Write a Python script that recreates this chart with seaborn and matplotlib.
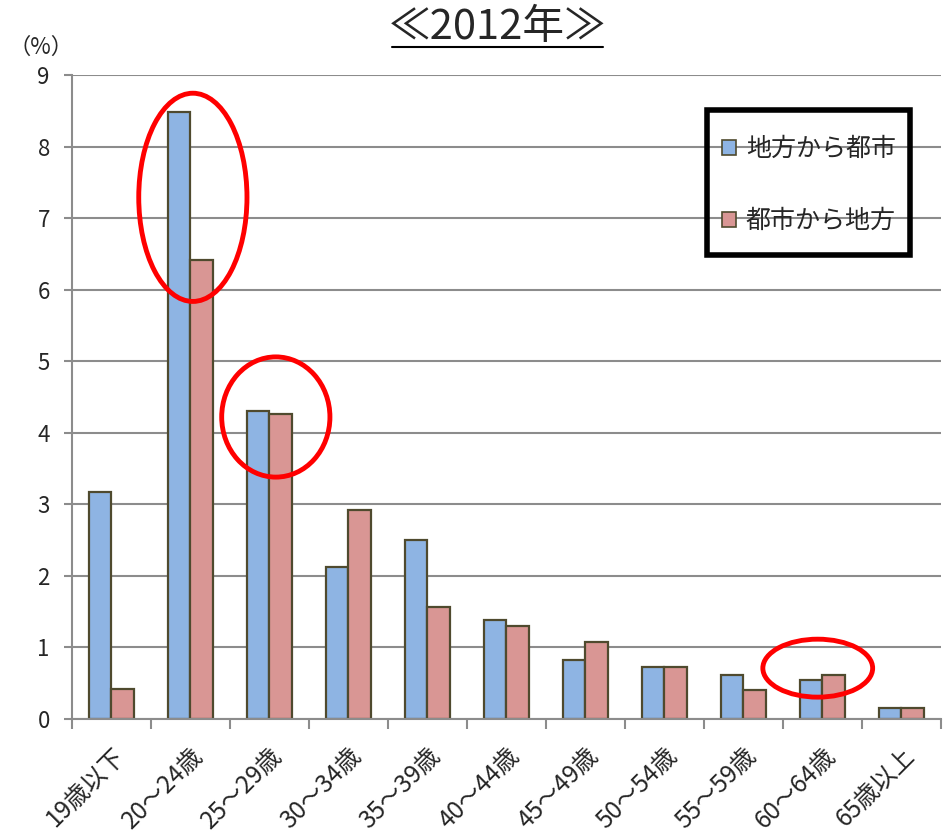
import matplotlib
matplotlib.use("Agg")
import matplotlib.pyplot as plt
from matplotlib.patches import Ellipse, Patch, Rectangle
from matplotlib.lines import Line2D
import seaborn as sns
import pandas as pd

sns.set_theme(style="white")
plt.rcParams["font.family"] = ["Noto Sans CJK JP", "DejaVu Sans"]

age_groups = ["19歳以下", "20～24歳", "25～29歳", "30～34歳", "35～39歳", "40～44歳",
              "45～49歳", "50～54歳", "55～59歳", "60～64歳", "65歳以上"]
rural_to_urban = [3.17, 8.48, 4.30, 2.12, 2.50, 1.39, 0.83, 0.72, 0.61, 0.55, 0.16]
urban_to_rural = [0.42, 6.41, 4.26, 2.92, 1.57, 1.30, 1.08, 0.73, 0.41, 0.61, 0.15]
series_names = ["地方から都市", "都市から地方"]
y_ticks = [0, 1, 2, 3, 4, 5, 6, 7, 8, 9]

df = pd.DataFrame({
    "age": age_groups * 2,
    "value": rural_to_urban + urban_to_rural,
    "direction": [series_names[0]] * len(age_groups) + [series_names[1]] * len(age_groups),
})

colors = ["#8EB4E3", "#D99694"]
edge = "#4F4A2E"
W, H = 946, 833

fig = plt.figure(figsize=(W / 100, H / 100), dpi=100)
ax = fig.add_axes([0.0761, 0.1369, 0.9186, 0.7731])

sns.barplot(data=df, x="age", y="value", hue="direction", palette=colors,
            width=0.57, edgecolor=edge, linewidth=1.6, ax=ax, legend=False,
            saturation=1)

ax.set_xlim(-0.5, len(age_groups) - 0.5)
ax.set_ylim(0, 9)
ax.set_yticks(y_ticks)
ax.set_yticklabels([str(t) for t in y_ticks], fontsize=16)
ax.yaxis.grid(True, color="#8C8C8C", linewidth=1.5)
ax.set_axisbelow(True)
ax.set_xlabel("")
ax.set_ylabel("")

# category ticks sit on the boundaries between groups
ax.set_xticks([i - 0.5 for i in range(len(age_groups) + 1)])
ax.set_xticklabels([])
ax.set_xticks(range(len(age_groups)), minor=True)
ax.set_xticklabels(age_groups, minor=True, rotation=45, ha="right",
                   rotation_mode="anchor", fontsize=17.5)
ax.tick_params(axis="x", which="major", length=7, width=1.5, color="#8C8C8C",
               direction="out", bottom=True)
ax.tick_params(axis="x", which="minor", length=0, pad=17)
ax.tick_params(axis="y", length=6, width=1.5, color="#8C8C8C", direction="out",
               left=True, pad=10)

for side in ["top", "right"]:
    ax.spines[side].set_visible(False)
for side in ["left", "bottom"]:
    ax.spines[side].set_color("#8C8C8C")
    ax.spines[side].set_linewidth(1.5)

# highlight rings
for cx, cy, w, h in [(1.03, 7.29, 1.37, 2.91), (2.08, 4.22, 1.37, 1.68),
                     (8.94, 0.71, 1.39, 0.81)]:
    ax.add_patch(Ellipse((cx, cy), w, h, fill=False, edgecolor="#FF0000",
                         linewidth=3.5, zorder=5, clip_on=False))

# legend entries with a separate heavy frame
handles = [Patch(facecolor=c, edgecolor=edge, linewidth=1.2) for c in colors]
ax.legend(handles, series_names, loc="upper left",
          bbox_to_anchor=(722 / W, 1 - 136 / H), bbox_transform=fig.transFigure,
          fontsize=18, frameon=False, labelspacing=1.85, handlelength=0.55,
          handleheight=0.55, handletextpad=0.4, borderpad=0, borderaxespad=0)
fig.add_artist(Rectangle((707 / W, 1 - 255 / H), 203 / W, 145 / H,
                         transform=fig.transFigure, facecolor="none",
                         edgecolor="black", linewidth=4, zorder=6))

fig.text(41 / W, 1 - 47 / H, "（%）", fontsize=16, ha="center", va="center")
fig.text(0.526, 0.967, "≪2012年≫", fontsize=30, ha="center", va="center")
fig.add_artist(Line2D([0.414, 0.637], [0.943, 0.943], color="black", linewidth=1.5))

fig.savefig("out.png", dpi=100)
